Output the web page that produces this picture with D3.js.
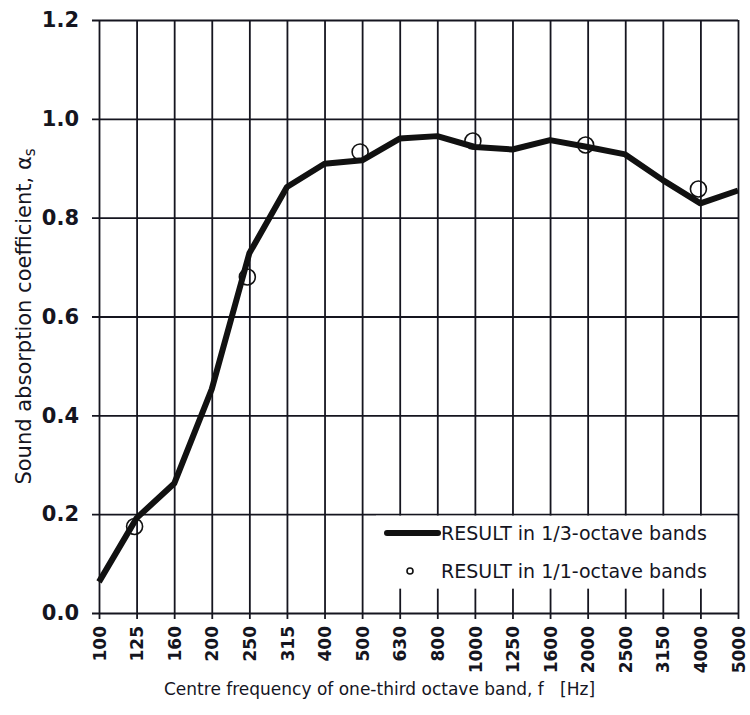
<!DOCTYPE html>
<html>
<head>
<meta charset="utf-8">
<script src="https://cdn.jsdelivr.net/npm/d3@7/dist/d3.min.js"></script>
<style>
  html, body { margin: 0; padding: 0; background: #fff; }
  svg { display: block; font-family: "DejaVu Sans", Verdana, sans-serif; }
</style>
</head>
<body>
<svg id="chart" width="750" height="715"></svg>
<script>
// Centre frequencies of the one-third octave bands
const bands = ["100", "125", "160", "200", "250", "315", "400", "500", "630",
               "800", "1000", "1250", "1600", "2000", "2500", "3150", "4000", "5000"];

// Result in 1/3-octave bands
const thirdOctave = [0.063, 0.192, 0.262, 0.453, 0.728, 0.862, 0.909, 0.916, 0.960,
                     0.965, 0.943, 0.938, 0.957, 0.943, 0.928, 0.876, 0.829, 0.855];

// Result in 1/1-octave bands
const octaveBands = ["125", "250", "500", "1000", "2000", "4000"];
const octaveValues = [0.175, 0.680, 0.933, 0.955, 0.947, 0.858];

const yTicks = [0.0, 0.2, 0.4, 0.6, 0.8, 1.0, 1.2];

const ink = "#15151f";
const svg = d3.select("#chart");

// plot area
const plotLeft = 99, plotRight = 738, plotTop = 20, plotBottom = 613;

const x = d3.scalePoint().domain(bands).range([plotLeft, plotRight]);
const y = d3.scaleLinear().domain([0, 1.2]).range([plotBottom, plotTop]);

// Grid: horizontal lines with outside ticks
const yAxis = d3.axisLeft(y).tickValues(yTicks)
    .tickSize(-(plotRight - plotLeft))
    .tickFormat(d3.format(".1f"));
const gy = svg.append("g").attr("transform", `translate(${plotLeft},0)`).call(yAxis);
gy.select(".domain").remove();
gy.selectAll(".tick line").attr("x1", -7).attr("stroke", ink).attr("stroke-width", 1.8);
gy.selectAll(".tick text")
    .attr("x", -20)
    .attr("fill", ink)
    .style("font-family", "'DejaVu Sans', sans-serif")
    .style("font-size", "21px")
    .style("font-weight", "bold");

// Grid: vertical lines with outside ticks
const xAxis = d3.axisBottom(x).tickSize(-(plotBottom - plotTop)).tickPadding(0);
const gx = svg.append("g").attr("transform", `translate(0,${plotBottom})`).call(xAxis);
gx.select(".domain").remove();
gx.selectAll(".tick line").attr("y1", 6).attr("stroke", ink).attr("stroke-width", 1.8);
gx.selectAll(".tick text")
    .attr("transform", "rotate(-90)")
    .attr("x", -13)
    .attr("y", 0)
    .attr("dy", "0.36em")
    .attr("text-anchor", "end")
    .attr("fill", ink)
    .style("font-family", "'DejaVu Sans', sans-serif")
    .style("font-size", "17px")
    .style("font-weight", "bold");

// Legend background covers the lower right part of the grid
const legend = svg.append("g");
legend.append("rect")
    .attr("x", 376).attr("y", y(0.2) + 1.5)
    .attr("width", plotRight - 376 - 1).attr("height", 73)
    .attr("fill", "#fff");

// 1/3-octave line
const line = d3.line()
    .x((d, i) => x(bands[i]))
    .y(d => y(d));
svg.append("path")
    .datum(thirdOctave)
    .attr("d", line)
    .attr("fill", "none")
    .attr("stroke", "#111")
    .attr("stroke-width", 6)
    .attr("stroke-linejoin", "round");

// 1/1-octave points
svg.append("g").selectAll("circle")
    .data(octaveValues)
    .join("circle")
    .attr("cx", (d, i) => x(octaveBands[i]) - 2)
    .attr("cy", d => y(d))
    .attr("r", 8)
    .attr("fill", "none")
    .attr("stroke", "#111")
    .attr("stroke-width", 1.6);

// Legend entries
legend.append("line")
    .attr("x1", 387).attr("x2", 438)
    .attr("y1", 533).attr("y2", 533)
    .attr("stroke", "#111").attr("stroke-width", 6).attr("stroke-linecap", "round");
legend.append("text")
    .attr("x", 441).attr("y", 533).attr("dy", "0.36em")
    .attr("fill", ink).style("font-size", "19px")
    .text("RESULT in 1/3-octave bands");
legend.append("circle")
    .attr("cx", 410).attr("cy", 571).attr("r", 3)
    .attr("fill", "none").attr("stroke", "#111").attr("stroke-width", 1.6);
legend.append("text")
    .attr("x", 441).attr("y", 571).attr("dy", "0.36em")
    .attr("fill", ink).style("font-size", "19px")
    .text("RESULT in 1/1-octave bands");

// Axis titles
svg.append("text")
    .attr("x", 164).attr("y", 695)
    .attr("fill", ink).style("font-size", "17px")
    .attr("xml:space", "preserve")
    .text("Centre frequency of one-third octave band, f   [Hz]");

const yTitle = svg.append("text")
    .attr("transform", `translate(31,${(plotTop + plotBottom) / 2}) rotate(-90)`)
    .attr("text-anchor", "middle")
    .attr("fill", ink).style("font-size", "21px");
yTitle.append("tspan").text("Sound absorption coefficient, α");
yTitle.append("tspan").attr("dy", "0.25em").style("font-size", "15px").text("s");
</script>
</body>
</html>
